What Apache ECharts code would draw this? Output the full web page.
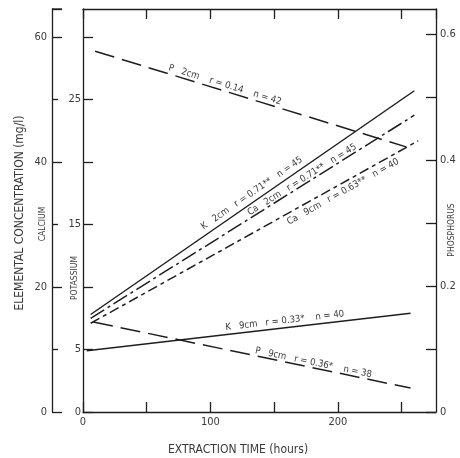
<!DOCTYPE html>
<html><head><meta charset="utf-8">
<script src="https://cdn.jsdelivr.net/npm/echarts@6/dist/echarts.min.js"></script>
<style>html,body{margin:0;padding:0;background:#fff}#c{width:460px;height:458px}</style>
</head><body><div id="c"></div>
<script>
// ---- data ----
const seriesNames = ['K 2cm', 'Ca 2cm', 'Ca 9cm', 'P 2cm', 'K 9cm', 'P 9cm'];
// [hours, concentration]
const k2cm  = [[6, 7.8],   [260, 25.7]];    // potassium axis
const ca2cm = [[6, 15.0],  [260, 47.5]];    // calcium axis
const ca9cm = [[6, 14.2],  [263, 43.4]];    // calcium axis
const p2cm  = [[9.5, 0.573], [253.5, 0.421]]; // phosphorus axis
const k9cm  = [[3, 4.9],   [257, 7.9]];     // potassium axis
const p9cm  = [[8, 0.143], [257, 0.038]];   // phosphorus axis
const annotationTexts = [
  'K   2cm   r = 0.71**   n = 45',
  'Ca   2cm   r = 0.71**   n = 45',
  'Ca   9cm   r = 0.63**   n = 40',
  'P   2cm    r = 0.14    n = 42',
  'K   9cm   r = 0.33*    n = 40',
  'P   9cm   r = 0.36*    n = 38'
];
const timeTickLabels = [0, 100, 200];
const potassiumTickLabels = [0, 5, 15, 25];
const calciumTickLabels = [0, 20, 40, 60];
const phosphorusTickLabels = [0, 0.2, 0.4, 0.6];

// ---- layout / style ----
const INK = '#1e1e1e', TXT = '#3a3a3a';
const FONT = "'DejaVu Sans Condensed','Liberation Sans',sans-serif";
const seriesData = [k2cm, ca2cm, ca9cm, p2cm, k9cm, p9cm];
const seriesAxis = [0, 1, 1, 2, 0, 2];
const seriesDash = ['solid', [16, 4, 3, 4], [10, 4, 4, 4], [20, 8], 'solid', [20, 8]];
// annotation anchor (hours along line) and perpendicular offset in px (+ = above)
const annAt = [136, 174, 201, 110, 159, 180];
const annOff = [8, 5, -8, 6, 7, 5];

const chart = echarts.init(document.getElementById('c'), null, {renderer: 'canvas'});
const axisCommon = {
  axisLine: {show: true, onZero: false, lineStyle: {color: INK, width: 1.3}},
  axisTick: {show: true, inside: true, length: 10, lineStyle: {color: INK, width: 1.3}},
  splitLine: {show: false},
  axisLabel: {color: TXT, fontFamily: FONT, fontSize: 11}
};
const option = {
  animation: false,
  backgroundColor: '#fff',
  grid: {left: 83, right: 24, top: 9, bottom: 46, containLabel: false},
  xAxis: [
    Object.assign({}, axisCommon, {
      type: 'value', position: 'bottom', min: 0, max: 277, interval: 50,
      axisLabel: Object.assign({}, axisCommon.axisLabel, {margin: 5, showMaxLabel: false,
        formatter: v => timeTickLabels.includes(v) ? String(v) : ''})
    }),
    Object.assign({}, axisCommon, {
      type: 'value', position: 'top', min: 0, max: 277, interval: 50,
      axisLabel: {show: false}
    })
  ],
  yAxis: [
    Object.assign({}, axisCommon, { // potassium
      type: 'value', position: 'left', offset: 0, min: 0, max: 32.24, interval: 5,
      axisLabel: Object.assign({}, axisCommon.axisLabel, {margin: 2, showMaxLabel: false,
        formatter: v => potassiumTickLabels.includes(v) ? String(v) : ''})
    }),
    Object.assign({}, axisCommon, { // calcium
      type: 'value', position: 'left', offset: 31, min: 0, max: 64.5, interval: 20,
      minorTick: {show: true, splitNumber: 2, length: 6, lineStyle: {color: INK, width: 1.3}},
      axisLabel: Object.assign({}, axisCommon.axisLabel, {margin: 5, showMaxLabel: false,
        formatter: v => calciumTickLabels.includes(v) ? String(v) : ''})
    }),
    Object.assign({}, axisCommon, { // phosphorus
      type: 'value', position: 'right', offset: 0, min: 0, max: 0.64, interval: 0.1,
      axisLabel: Object.assign({}, axisCommon.axisLabel, {margin: 4, showMaxLabel: false,
        formatter: v => {
          const r = Math.round(v * 10) / 10;
          return phosphorusTickLabels.includes(r) ? (r === 0 ? '0' : r.toFixed(1)) : '';
        }})
    })
  ],
  series: seriesNames.map((name, i) => ({
    name, type: 'line', xAxisIndex: 0, yAxisIndex: seriesAxis[i], data: seriesData[i],
    symbol: 'none', silent: true,
    lineStyle: {color: INK, width: 1.5, type: seriesDash[i]}
  }))
};
chart.setOption(option);

// ---- annotations & axis titles as graphic text ----
const graphics = [];
seriesNames.forEach((name, i) => {
  const d = seriesData[i];
  const finder = {xAxisIndex: 0, yAxisIndex: seriesAxis[i]};
  const p0 = chart.convertToPixel(finder, d[0]);
  const p1 = chart.convertToPixel(finder, d[1]);
  const a = Math.atan2(-(p1[1] - p0[1]), p1[0] - p0[0]);
  const t = annAt[i];
  const v = d[0][1] + (d[1][1] - d[0][1]) * (t - d[0][0]) / (d[1][0] - d[0][0]);
  const c = chart.convertToPixel(finder, [t, v]);
  const off = annOff[i];
  graphics.push({
    type: 'text', x: c[0] - Math.sin(a) * off, y: c[1] - Math.cos(a) * off, rotation: a,
    style: {text: annotationTexts[i], fill: TXT, fontSize: 9.5, fontFamily: FONT,
            align: 'center', verticalAlign: 'middle', textAlign: 'center', textVerticalAlign: 'middle'}
  });
});
// calcium axis top cap
const caTop = chart.convertToPixel({yAxisIndex: 1}, 64.5);
graphics.push({type: 'line', shape: {x1: 52, y1: caTop, x2: 62, y2: caTop}, style: {stroke: INK, lineWidth: 1.3}});
const titleStyle = (txt, size) => ({text: txt, fill: TXT, fontSize: size, fontFamily: FONT,
  align: 'center', verticalAlign: 'middle', textAlign: 'center', textVerticalAlign: 'middle'});
graphics.push({type: 'text', x: 20, y: 213, rotation: Math.PI / 2, style: titleStyle('ELEMENTAL CONCENTRATION (mg/l)', 12)});
graphics.push({type: 'text', x: 43, y: 224, rotation: Math.PI / 2, style: titleStyle('CALCIUM', 8.5)});
graphics.push({type: 'text', x: 75, y: 278, rotation: Math.PI / 2, style: titleStyle('POTASSIUM', 8.5)});
graphics.push({type: 'text', x: 452, y: 230, rotation: Math.PI / 2, style: titleStyle('PHOSPHORUS', 8.5)});
graphics.push({type: 'text', x: 238, y: 450, style: titleStyle('EXTRACTION TIME (hours)', 12)});
chart.setOption({graphic: graphics});
</script></body></html>
